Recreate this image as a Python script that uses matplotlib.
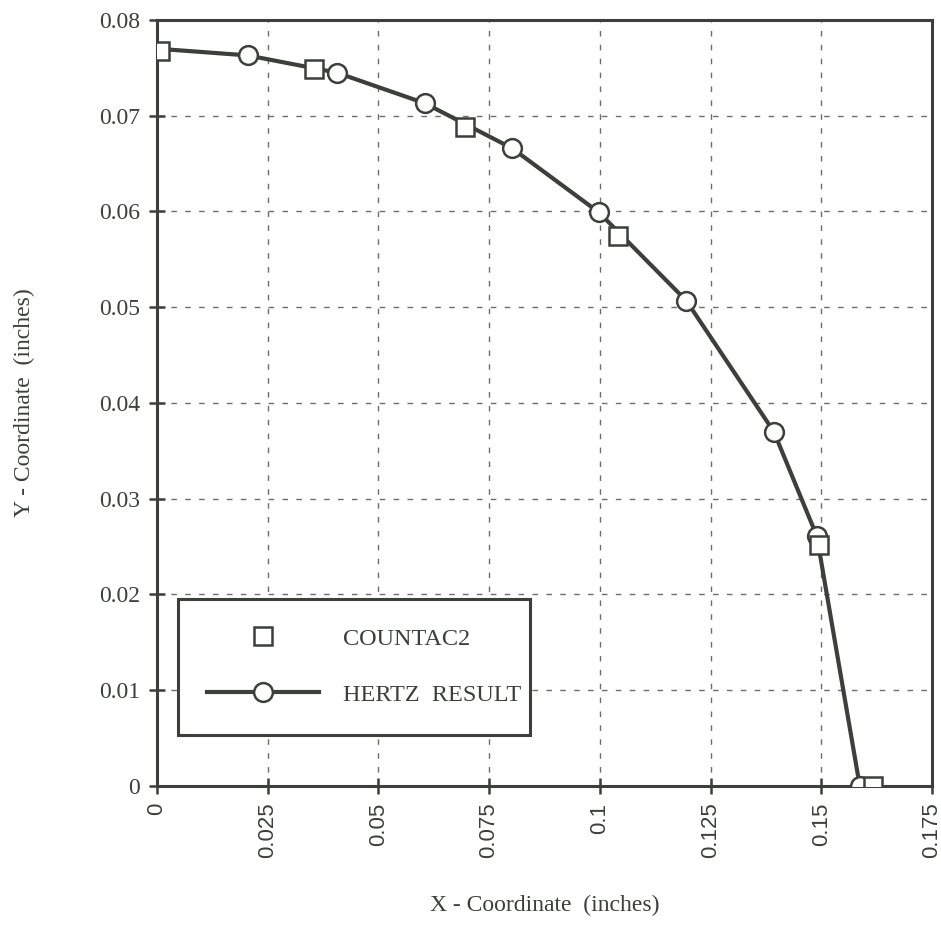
import numpy as np
import matplotlib.pyplot as plt
from matplotlib.lines import Line2D

# Hertz analytical contact boundary
hertz_x = [0.0, 0.0205, 0.0406, 0.0605, 0.0802, 0.0998, 0.1195, 0.1393, 0.1490, 0.1587]
hertz_y = [0.0770, 0.0763, 0.0745, 0.0713, 0.0666, 0.0599, 0.0507, 0.0370, 0.0261, 0.0]

# COUNTAC2 finite element results
countac_x = [0.0007, 0.0354, 0.0695, 0.1041, 0.1495, 0.1617]
countac_y = [0.0768, 0.0749, 0.0688, 0.0574, 0.0252, 0.0]

x_ticks = [0, 0.025, 0.05, 0.075, 0.1, 0.125, 0.15, 0.175]
x_tick_labels = ['0', '0.025', '0.05', '0.075', '0.1', '0.125', '0.15', '0.175']
y_ticks = [0, 0.01, 0.02, 0.03, 0.04, 0.05, 0.06, 0.07, 0.08]
y_tick_labels = ['0', '0.01', '0.02', '0.03', '0.04', '0.05', '0.06', '0.07', '0.08']

ink = '#3b403b'
serif = 'Liberation Serif'
sans = 'Liberation Sans'
msize = 13.5

fig = plt.figure(figsize=(9.41, 9.42), dpi=100)
ax = fig.add_axes([0.1668, 0.1656, 0.8236, 0.8132])

# hertz line drawn with hidden first marker (under the square at x=0)
ax.plot(hertz_x, hertz_y, color=ink, linewidth=3.0, zorder=3)
ax.plot(hertz_x[1:], hertz_y[1:], linestyle='none', marker='o', markersize=msize,
        markerfacecolor='white', markeredgecolor=ink, markeredgewidth=1.8, zorder=4)
ax.plot(countac_x, countac_y, linestyle='none', marker='s', markersize=msize - 1,
        markerfacecolor='white', markeredgecolor=ink, markeredgewidth=1.8, zorder=5)

ax.set_xlim(0, 0.175)
ax.set_ylim(0, 0.08)
ax.set_xticks(x_ticks)
ax.set_xticklabels(x_tick_labels, rotation=90, fontsize=16, family=sans, color=ink)
ax.set_yticks(y_ticks)
ax.set_yticklabels(y_tick_labels, fontsize=17, family=serif, color=ink)
ax.tick_params(direction='inout', length=12, width=1.8, color=ink, pad=6)

ax.grid(True, color='#6a6f6a', linestyle=(0, (4, 6)), linewidth=1.0)
for s in ax.spines.values():
    s.set_color(ink)
    s.set_linewidth(2.2)

ax.set_xlabel('X - Coordinate  (inches)', fontsize=17, family=serif, color=ink, labelpad=26)
ax.set_ylabel('Y - Coordinate  (inches)', fontsize=17, family=serif, color=ink, labelpad=46)

handles = [
    Line2D([], [], linestyle='none', marker='s', markersize=msize - 1, markerfacecolor='white',
           markeredgecolor=ink, markeredgewidth=1.8),
    Line2D([], [], color=ink, linewidth=3.0, marker='o', markersize=msize,
           markerfacecolor='white', markeredgecolor=ink, markeredgewidth=1.8),
]
leg = ax.legend(handles, ['COUNTAC2', 'HERTZ  RESULT'], loc='lower left',
                bbox_to_anchor=(0.027, 0.0666, 0.454, 0.174), mode='expand',
                fancybox=False, framealpha=1, edgecolor=ink, handlelength=4.6,
                handletextpad=1.0, borderpad=1.2, labelspacing=1.4,
                prop={'family': serif, 'size': 17.5}, borderaxespad=0)
leg.get_frame().set_linewidth(2.2)
for t in leg.get_texts():
    t.set_color(ink)

fig.savefig('out.png', dpi=100)
